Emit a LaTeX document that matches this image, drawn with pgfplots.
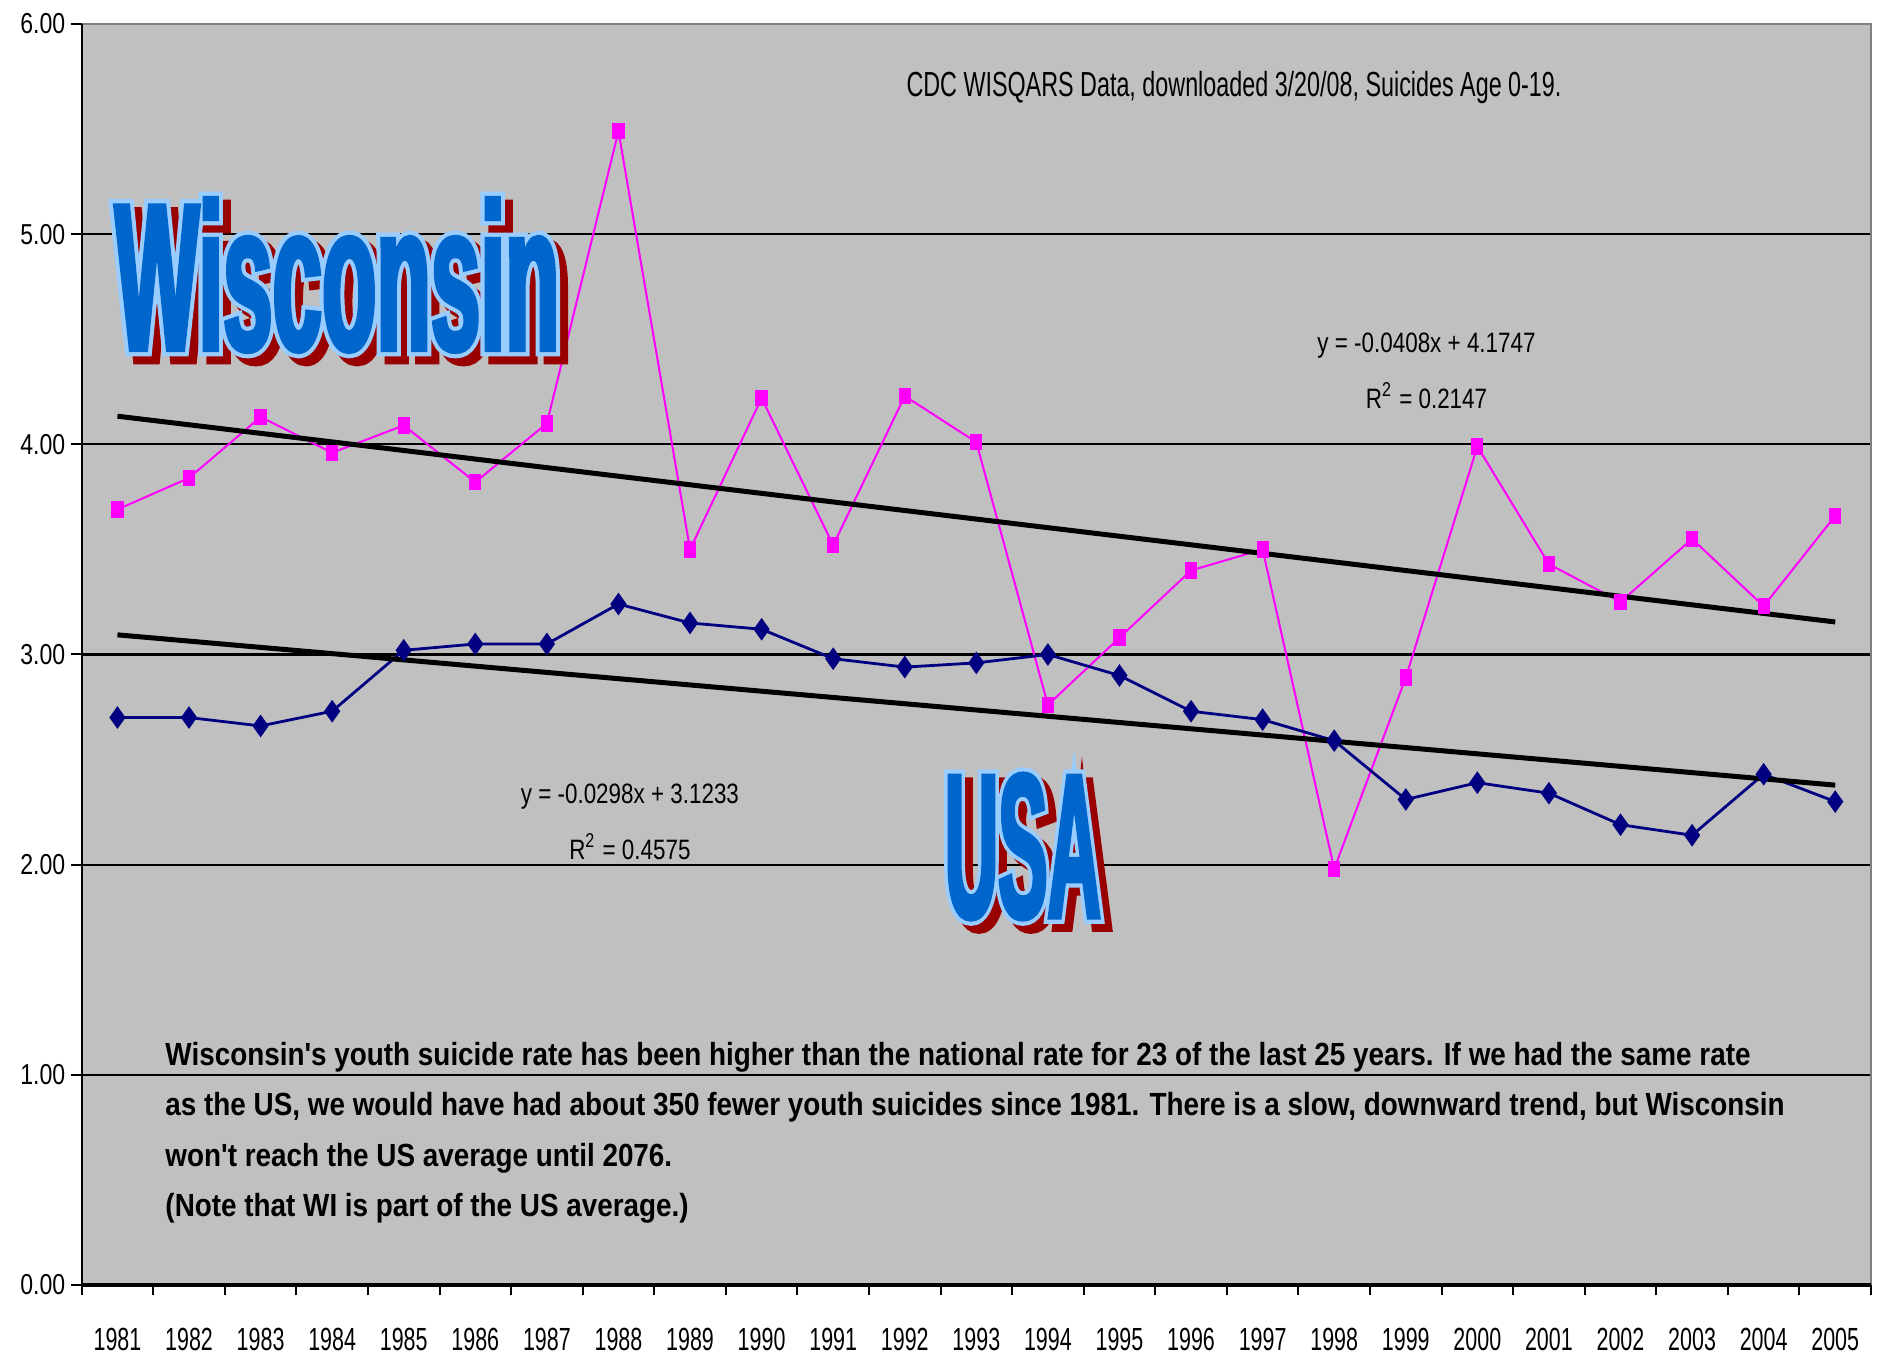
\documentclass[border=0pt]{standalone}
\usepackage{fontspec}
\setmainfont{Liberation Sans}[FakeStretch=0.8]
\newfontfamily\narrowfont{Liberation Sans}[FakeStretch=0.67]
\newfontfamily\parafont{Liberation Sans}[FakeStretch=0.87]
\newfontfamily\wafont{Liberation Sans}[FakeStretch=0.44, BoldFeatures={FakeBold=2}]
\newfontfamily\waoutline{Liberation Sans}[FakeStretch=0.44, BoldFeatures={FakeBold=6}]
\usepackage{graphicx}
\usepackage{pgfplots}
\pgfplotsset{compat=1.18}
\usepackage{pgfplotstable}

\definecolor{plotgray}{HTML}{C0C0C0}
\definecolor{wipink}{HTML}{FF00FF}
\definecolor{usnavy}{HTML}{000080}
\definecolor{wablue}{HTML}{0066CC}
\definecolor{walight}{HTML}{99CCFF}
\definecolor{wared}{HTML}{990000}
\definecolor{bordergray}{HTML}{808080}

\pgfplotstableread{
x y
0 3.69
1 3.84
2 4.13
3 3.96
4 4.09
5 3.82
6 4.10
7 5.49
8 3.50
9 4.22
10 3.52
11 4.23
12 4.01
13 2.76
14 3.08
15 3.40
16 3.50
17 1.98
18 2.89
19 3.99
20 3.43
21 3.25
22 3.55
23 3.23
24 3.66
}\wisc

\pgfplotstableread{
x y
0 2.70
1 2.70
2 2.66
3 2.73
4 3.02
5 3.05
6 3.05
7 3.24
8 3.15
9 3.12
10 2.98
11 2.94
12 2.96
13 3.00
14 2.90
15 2.73
16 2.69
17 2.59
18 2.31
19 2.39
20 2.34
21 2.19
22 2.14
23 2.43
24 2.30
}\usa

\newcommand{\wordart}[4]{%
  \node[inner sep=0pt, text=wared] at ([shift={(2pt,-2pt)}]#1) {\resizebox{#2}{#3}{\waoutline\bfseries\fontsize{50}{50}\selectfont #4}};
  \node[inner sep=0pt, text=walight] at (#1) {\resizebox{#2}{#3}{\waoutline\bfseries\fontsize{50}{50}\selectfont #4}};
  \node[inner sep=0pt, text=wablue] at (#1) {\resizebox{#2}{#3}{\wafont\bfseries\fontsize{50}{50}\selectfont #4}};
}

\begin{document}
\begin{tikzpicture}
\begin{axis}[
  scale only axis,
  width=447pt, height=315pt,
  xmin=-0.5, xmax=24.5, ymin=0, ymax=6,
  axis background/.style={fill=plotgray},
  axis line style={draw=none},
  xtick={0,...,24},
  xticklabels={1981,1982,1983,1984,1985,1986,1987,1988,1989,1990,1991,1992,1993,1994,1995,1996,1997,1998,1999,2000,2001,2002,2003,2004,2005},
  ytick={0,1,2,3,4,5,6},
  minor xtick={-0.5,0.5,...,24.5},
  minor ytick={0,1,2,3,4,5,6},
  major tick length=0pt,
  minor tick length=2.6pt,
  tick align=outside,
  tick style={black, line width=0.5pt},
  xtick pos=bottom, ytick pos=left,
  ymajorgrids,
  major grid style={black, line width=0.55pt},
  yticklabel={\pgfmathprintnumber[fixed,fixed zerofill,precision=2]{\tick}},
  /pgf/number format/assume math mode=true,
  yticklabel style={inner sep=0pt, anchor=east, xshift=-3.9pt, font=\fontsize{7.2}{8}\selectfont},
  xticklabel style={inner sep=0pt, anchor=north, yshift=-10.5pt, font=\narrowfont\fontsize{8}{9}\selectfont},
  clip=false,
]
% data lines
\addplot[wipink, line width=0.5pt, mark=none] table[x=x,y=y] {\wisc};
\addplot[usnavy, line width=0.7pt, mark=none] table[x=x,y=y] {\usa};
% trend lines
\addplot[black, line width=1.25pt, mark=none] coordinates {(0,4.1339) (24,3.1547)};
\addplot[black, line width=1.25pt, mark=none] coordinates {(0,3.0935) (24,2.3783)};
% markers on top
\addplot[only marks, mark=square*, mark size=1.85pt, mark options={wipink, xscale=0.72}] table[x=x,y=y] {\wisc};
\addplot[only marks, mark=diamond*, mark size=2.5pt, mark options={usnavy, xscale=0.95}] table[x=x,y=y] {\usa};

% borders
\draw[bordergray, line width=0.7pt] (rel axis cs:0,1) -- (rel axis cs:1,1) -- (rel axis cs:1,0);
\draw[black, line width=0.5pt] (rel axis cs:0,1) -- (rel axis cs:0,0);
\draw[black, line width=0.9pt] (rel axis cs:0,0) -- (rel axis cs:1,0);

% texts
\node[font=\narrowfont\fontsize{8.7}{10}\selectfont, inner sep=0pt] at (axis cs:15.6,5.70) {CDC WISQARS Data, downloaded 3/20/08, Suicides Age 0-19.};
\node[font=\fontsize{7}{8}\selectfont, inner sep=0pt] at (axis cs:18.29,4.47) {y = -0.0408x + 4.1747};
\node[font=\fontsize{7}{8}\selectfont, inner sep=0pt] at (axis cs:18.29,4.23) {R\textsuperscript{2} = 0.2147};
\node[font=\fontsize{7}{8}\selectfont, inner sep=0pt] at (axis cs:7.16,2.326) {y = -0.0298x + 3.1233};
\node[font=\fontsize{7}{8}\selectfont, inner sep=0pt] at (axis cs:7.16,2.086) {R\textsuperscript{2} = 0.4575};
\node[anchor=west, inner sep=0pt, align=left, font=\parafont\bfseries\fontsize{8}{12.6}\selectfont] at (axis cs:0.66,0.725)
 {Wisconsin's youth suicide rate has been higher than the national rate for 23 of the last 25 years. If we had the same rate\\
  as the US, we would have had about 350 fewer youth suicides since 1981. There is a slow, downward trend, but Wisconsin\\
  won't reach the US average until 2076.\\
  (Note that WI is part of the US average.)};

\coordinate (WI) at (axis cs:3.07,4.806);
\coordinate (US) at (axis cs:12.65,2.086);
\coordinate (SW) at (rel axis cs:0,0);
\coordinate (NE) at (rel axis cs:1,1);
\end{axis}
\wordart{WI}{111pt}{38pt}{Wisconsin}
\wordart{US}{39pt}{36pt}{USA}
\pgfresetboundingbox
\path[use as bounding box] ([xshift=-20.4pt,yshift=-18.9pt]SW) rectangle ([xshift=3pt,yshift=6pt]NE);
\end{tikzpicture}
\end{document}
